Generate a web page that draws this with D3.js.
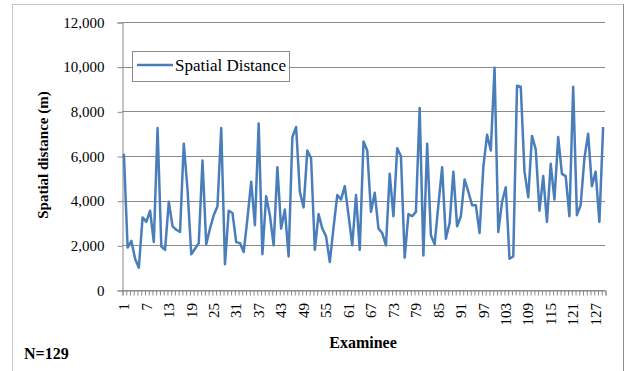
<!DOCTYPE html>
<html>
<head>
<meta charset="utf-8">
<script src="https://cdn.jsdelivr.net/npm/d3@7"></script>
<style>
  body { margin: 0; background: #fff; }
  svg { display: block; }
</style>
</head>
<body>
<svg id="chart" width="627" height="371"></svg>
<script>
// examinee distances (m)
const distances = [
  6100, 1900, 2200, 1400, 1000, 3250, 3050, 3550, 2150, 7250,
  1950, 1800, 3950, 2850, 2700, 2600, 6550, 4500, 1600, 1850,
  2100, 5800, 2050, 2750, 3350, 3750, 7250, 1150, 3550, 3450,
  2150, 2100, 1700, 3200, 4850, 2900, 7450, 1600, 4200, 3350,
  2000, 5500, 2750, 3600, 1500, 6850, 7300, 4400, 3700, 6250,
  5900, 1800, 3400, 2750, 2400, 1250, 2800, 4250, 4050, 4650,
  3350, 2000, 4250, 1800, 6650, 6250, 3500, 4350, 2750, 2550,
  2000, 5200, 3300, 6350, 6000, 1450, 3400, 3300, 3500, 8150,
  1550, 6550, 2450, 2050, 3800, 5500, 2300, 3000, 5300, 2850,
  3300, 4950, 4400, 3800, 3800, 2550, 5500, 6950, 6250, 9950,
  2600, 3950, 4600, 1400, 1500, 9150, 9100, 5300, 4150, 6900,
  6300, 3550, 5100, 3050, 5650, 4050, 6850, 5200, 5100, 3300,
  9100, 3350, 3800, 5900, 7000, 4650, 5300, 3050, 7300
];
const examinees = distances.map((d, i) => i + 1);
const yTicks = [0, 2000, 4000, 6000, 8000, 10000, 12000];
const xLabels = examinees.filter(n => (n - 1) % 6 === 0);
const seriesName = 'Spatial Distance';

const svg = d3.select('#chart');
const serif = '"Liberation Serif", "Times New Roman", serif';
const plot = { left: 122, right: 605, top: 22, bottom: 290 };

// chart border
svg.append('rect')
  .attr('x', 12.5).attr('y', 4.5)
  .attr('width', 611).attr('height', 380)
  .attr('fill', 'none').attr('stroke', '#c8c8c8');
svg.append('line')
  .attr('x1', 623.5).attr('x2', 623.5).attr('y1', 4).attr('y2', 371)
  .attr('stroke', '#8c8c8c');

const x = d3.scaleBand().domain(examinees).range([plot.left, plot.right]).padding(0);
const xEdge = d3.scaleLinear().domain([0, examinees.length]).range([plot.left, plot.right]);
const y = d3.scaleLinear().domain([0, 12000]).range([plot.bottom, plot.top]);

// gridlines
svg.append('g')
  .selectAll('line')
  .data(yTicks)
  .join('line')
    .attr('x1', plot.left).attr('x2', plot.right)
    .attr('y1', d => Math.round(y(d)) + 0.5)
    .attr('y2', d => Math.round(y(d)) + 0.5)
    .attr('stroke', '#8a8a8a');

// y axis
const yAxis = svg.append('g')
  .attr('transform', `translate(${plot.left + 0.5},0.5)`)
  .call(d3.axisLeft(y).tickValues(yTicks).tickSize(5).tickPadding(13)
    .tickFormat(d3.format(',')));
yAxis.select('.domain').attr('stroke', '#8a8a8a');
yAxis.selectAll('line').attr('stroke', '#8a8a8a');
yAxis.selectAll('text')
  .style('font-family', serif).style('font-size', '15px').attr('fill', '#000');

// x axis: tick marks on category boundaries
const xAxis = svg.append('g')
  .attr('transform', `translate(0.5,${plot.bottom + 0.5})`)
  .call(d3.axisBottom(xEdge).tickValues(d3.range(0, examinees.length + 1))
    .tickSize(5).tickFormat(''));
xAxis.select('.domain').attr('stroke', '#8a8a8a');
xAxis.selectAll('line').attr('stroke', '#8a8a8a');

// x labels, rotated
svg.append('g')
  .selectAll('text')
  .data(xLabels)
  .join('text')
    .attr('transform', d => `translate(${x(d) + x.bandwidth() / 2},303) rotate(-90)`)
    .attr('dy', '0.35em')
    .attr('text-anchor', 'end')
    .style('font-family', serif).style('font-size', '15px')
    .text(d => d);

// series
const line = d3.line()
  .x((d, i) => x(examinees[i]) + x.bandwidth() / 2)
  .y(d => y(d));
svg.append('path')
  .datum(distances)
  .attr('d', line)
  .attr('fill', 'none')
  .attr('stroke', '#4a7ebb')
  .attr('stroke-width', 2.5)
  .attr('stroke-linejoin', 'round');

// legend
const legend = svg.append('g');
legend.append('rect')
  .attr('x', 132.5).attr('y', 51.5).attr('width', 157).attr('height', 30)
  .attr('fill', '#fff').attr('stroke', '#8a8a8a');
legend.append('line')
  .attr('x1', 137).attr('x2', 173).attr('y1', 65).attr('y2', 65)
  .attr('stroke', '#4a7ebb').attr('stroke-width', 2.5);
legend.append('text')
  .attr('x', 175).attr('y', 65).attr('dy', '0.35em')
  .style('font-family', serif).style('font-size', '17px')
  .text(seriesName);

// axis titles
svg.append('text')
  .attr('transform', 'translate(43,155) rotate(-90)')
  .attr('dy', '0.35em')
  .attr('text-anchor', 'middle')
  .style('font-family', serif).style('font-size', '15px').style('font-weight', 'bold')
  .text('Spatial distance (m)');

svg.append('text')
  .attr('x', 363).attr('y', 348)
  .attr('text-anchor', 'middle')
  .style('font-family', serif).style('font-size', '16px').style('font-weight', 'bold')
  .text('Examinee');

svg.append('text')
  .attr('x', 24).attr('y', 359)
  .style('font-family', serif).style('font-size', '16px').style('font-weight', 'bold')
  .text('N=129');
</script>
</body>
</html>
